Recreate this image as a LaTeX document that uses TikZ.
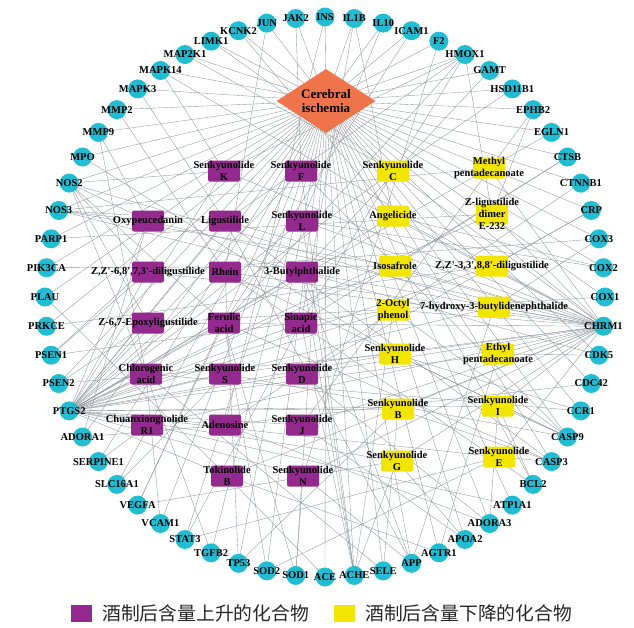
\documentclass[tikz,border=0pt]{standalone}
\usepackage{fontspec}
\setmainfont{Liberation Serif}
\newfontfamily\cjk{Noto Sans CJK SC}
\usetikzlibrary{shapes.geometric}
\pgfdeclarelayer{bg}
\pgfsetlayers{bg,main}
\definecolor{tealc}{HTML}{22BDD2}
\definecolor{purc}{HTML}{952A8E}
\definecolor{yelc}{HTML}{F2E500}
\definecolor{orac}{HTML}{F0744B}
\definecolor{edgec}{HTML}{8C949C}
\begin{document}
\begin{tikzpicture}[x=1pt,y=-1pt,
  lbl/.style={inner sep=0pt,font=\fontsize{10.5}{12.5}\selectfont\bfseries,align=center,text=black},
  tgt/.style={circle,fill=tealc,minimum size=19pt,inner sep=0pt},
  pbox/.style={rectangle,rounded corners=2pt,fill=purc,minimum width=32pt,minimum height=21pt,inner sep=0pt},
  ybox/.style={rectangle,rounded corners=2pt,fill=yelc,minimum width=32pt,minimum height=21pt,inner sep=0pt},
  cdia/.style={diamond,fill=orac,aspect=1.55,minimum width=99pt,minimum height=64pt,inner sep=0pt,align=center,font=\fontsize{13}{14}\selectfont\bfseries},
  edgeline/.style={draw=edgec,line width=0.35pt},
  legtext/.style={anchor=west,inner sep=0pt,font=\cjk\fontsize{18.8}{20}\selectfont,text=black!85}
]
\useasboundingbox (0,0) rectangle (634,627);

% targets on the circle
\foreach \n [count=\i from 0] in {INS,JAK2,JUN,KCNK2,LIMK1,MAP2K1,MAPK14,MAPK3,MMP2,MMP9,MPO,NOS2,NOS3,PARP1,PIK3CA,PLAU,PRKCE,PSEN1,PSEN2,PTGS2,ADORA1,SERPINE1,SLC16A1,VEGFA,VCAM1,STAT3,TGFB2,TP53,SOD2,SOD1,ACE,ACHE,SELE,APP,AGTR1,APOA2,ADORA3,ATP1A1,BCL2,CASP3,CASP9,CCR1,CDC42,CDK5,CHRM1,COX1,COX2,COX3,CRP,CTNNB1,CTSB,EGLN1,EPHB2,HSD11B1,GAMT,HMOX1,F2,ICAM1,IL10,IL1B}
  \node[tgt,label={[lbl]center:\n}] (\n) at ({325+280*cos(90+6*\i)},{297-280*sin(90+6*\i)}) {};

% centre
\node[cdia] (ci) at (326,101) {Cerebral\\ischemia};

% purple compounds
\node[pbox,label={[lbl]center:{Senkyunolide\\K}}] (p1) at (224,171) {};
\node[pbox,label={[lbl]center:{Senkyunolide\\F}}] (p2) at (301,171) {};
\node[pbox,label={[lbl]center:{Oxypeucedanin}}] (p3) at (148,221) {};
\node[pbox,label={[lbl]center:{Ligustilide}}] (p4) at (225,221) {};
\node[pbox,label={[lbl]center:{Senkyunolide\\L}}] (p5) at (302,221) {};
\node[pbox,label={[lbl]center:{Z,Z\textquotesingle-6,8\textquotesingle,7,3\textquotesingle-diligustilide}}] (p6) at (148,272) {};
\node[pbox,label={[lbl]center:{Rhein}}] (p7) at (225,272) {};
\node[pbox,label={[lbl]center:{3-Butylphthalide}}] (p8) at (302,272) {};
\node[pbox,label={[lbl]center:{Z-6,7-Epoxyligustilide}}] (p9) at (148,323) {};
\node[pbox,label={[lbl]center:{Ferulic\\acid}}] (p10) at (224,323) {};
\node[pbox,label={[lbl]center:{Sinapic\\acid}}] (p11) at (301,323) {};
\node[pbox,label={[lbl]center:{Chlorogenic\\acid}}] (p12) at (146,374) {};
\node[pbox,label={[lbl]center:{Senkyunolide\\S}}] (p13) at (225,374) {};
\node[pbox,label={[lbl]center:{Senkyunolide\\D}}] (p14) at (302,374) {};
\node[pbox,label={[lbl]center:{Chuanxiongnolide\\R1}}] (p15) at (147,425) {};
\node[pbox,label={[lbl]center:{Adenosine}}] (p16) at (225,425) {};
\node[pbox,label={[lbl]center:{Senkyunolide\\J}}] (p17) at (302,425) {};
\node[pbox,label={[lbl]center:{Tokinolide\\B}}] (p18) at (227,476) {};
\node[pbox,label={[lbl]center:{Senkyunolide\\N}}] (p19) at (303,476) {};

% yellow compounds
\node[ybox,label={[lbl]center:{Senkyunolide\\C}}] (y1) at (393,171) {};
\node[ybox,label={[lbl]center:{Methyl\\pentadecanoate}}] (y2) at (489,168) {};
\node[ybox,label={[lbl]center:{Angelicide}}] (y3) at (393,216) {};
\node[ybox,label={[lbl,font=\fontsize{10.5}{12}\selectfont\bfseries]center:{Z-ligustilide\\dimer\\E-232}}] (y4) at (492,214) {};
\node[ybox,label={[lbl]center:{Isosafrole}}] (y5) at (395,266) {};
\node[ybox,label={[lbl]center:{Z,Z\textquotesingle-3,3\textquotesingle,8,8\textquotesingle-diligustilide}}] (y6) at (492,266) {};
\node[ybox,label={[lbl]center:{2-Octyl\\phenol}}] (y7) at (393,310) {};
\node[ybox,label={[lbl]center:{7-hydroxy-3-butylidenephthalide}}] (y8) at (494,307) {};
\node[ybox,label={[lbl]center:{Senkyunolide\\H}}] (y9) at (395,354) {};
\node[ybox,label={[lbl]center:{Ethyl\\pentadecanoate}}] (y10) at (498,354) {};
\node[ybox,label={[lbl]center:{Senkyunolide\\B}}] (y11) at (398,409) {};
\node[ybox,label={[lbl]center:{Senkyunolide\\I}}] (y12) at (498,406) {};
\node[ybox,label={[lbl]center:{Senkyunolide\\G}}] (y13) at (397,461) {};
\node[ybox,label={[lbl]center:{Senkyunolide\\E}}] (y14) at (499,457) {};

% edges
\begin{pgfonlayer}{bg}
\foreach \n in {INS,JAK2,JUN,KCNK2,LIMK1,MAP2K1,MAPK14,MAPK3,MMP2,MMP9,MPO,NOS2,NOS3,PARP1,PIK3CA,PLAU,PRKCE,PSEN1,PSEN2,PTGS2,ADORA1,SERPINE1,SLC16A1,VEGFA,VCAM1,STAT3,TGFB2,TP53,SOD2,SOD1,ACE,ACHE,SELE,APP,AGTR1,APOA2,ADORA3,ATP1A1,BCL2,CASP3,CASP9,CCR1,CDC42,CDK5,CHRM1,COX1,COX2,COX3,CRP,CTNNB1,CTSB,EGLN1,EPHB2,HSD11B1,GAMT,HMOX1,F2,ICAM1,IL10,IL1B}
  \draw[edgeline] (ci.center) -- (\n.center);
\foreach \c/\ts in {
  p1/{PTGS2,CHRM1,HMOX1,NOS2,MAPK14},
  p2/{PTGS2,CHRM1,ACHE,CASP9,JAK2},
  p3/{NOS2,NOS3,PTGS2,CHRM1,MMP9,ADORA1},
  p4/{PTGS2,CHRM1,HMOX1,APP,CASP3,MAPK3,NOS3},
  p5/{PTGS2,CHRM1,ACHE,IL10,COX2},
  p6/{PTGS2,CHRM1,NOS2,PSEN1,COX3},
  p7/{CHRM1,PTGS2,MMP2,CASP9,BCL2,TP53,JUN},
  p8/{PTGS2,NOS3,CHRM1,APP,ACHE,CDK5,GAMT},
  p9/{PTGS2,CHRM1,PSEN2,NOS2,COX1},
  p10/{PTGS2,NOS2,HMOX1,SOD1,SOD2,CASP3,VEGFA,ICAM1},
  p11/{PTGS2,ACHE,HMOX1,CTSB,IL1B,STAT3},
  p12/{PTGS2,MMP9,NOS2,SELE,VCAM1,TGFB2,CCR1},
  p13/{PTGS2,CHRM1,CASP9,SLC16A1},
  p14/{PTGS2,CHRM1,ADORA3,CRP},
  p15/{PTGS2,CHRM1,ATP1A1,SERPINE1},
  p16/{ADORA1,ADORA3,PTGS2,CDC42,INS,CTNNB1},
  p17/{PTGS2,CHRM1,APOA2,EPHB2},
  p18/{PTGS2,CHRM1,AGTR1,ACE,PLAU},
  p19/{PTGS2,CHRM1,APP,SOD1,F2},
  y1/{PTGS2,CHRM1,HSD11B1,MAP2K1,LIMK1},
  y2/{PTGS2,EGLN1,CHRM1,NOS3},
  y3/{PTGS2,CHRM1,KCNK2,IL1B,COX2},
  y4/{PTGS2,CHRM1,HMOX1,EPHB2,PARP1},
  y5/{PTGS2,CHRM1,NOS3,PIK3CA,CTSB},
  y6/{PTGS2,CHRM1,CRP,PRKCE,MAPK14},
  y7/{PTGS2,CHRM1,CASP9,PSEN1,ACHE},
  y8/{PTGS2,CHRM1,COX3,NOS2,APP},
  y9/{PTGS2,CHRM1,CASP9,CCR1,PSEN2,MPO},
  y10/{PTGS2,CHRM1,CDK5,AGTR1},
  y11/{PTGS2,CHRM1,CASP3,TP53,SELE},
  y12/{PTGS2,CHRM1,CASP9,BCL2,ADORA3},
  y13/{PTGS2,CHRM1,ACHE,VEGFA,APOA2},
  y14/{PTGS2,CHRM1,CASP3,SOD2,STAT3}}
  \foreach \t in \ts
    \draw[edgeline] (\c.center) -- (\t.center);
\end{pgfonlayer}

% legend
\node[rectangle,fill=purc,minimum width=21pt,minimum height=17pt,inner sep=0pt] (lg1) at (81,613) {};
\node[legtext] (lg1t) at (102,613) {酒制后含量上升的化合物};
\node[rectangle,fill=yelc,minimum width=21pt,minimum height=17pt,inner sep=0pt] (lg2) at (344,613) {};
\node[legtext] (lg2t) at (365,613) {酒制后含量下降的化合物};
\end{tikzpicture}
\end{document}
